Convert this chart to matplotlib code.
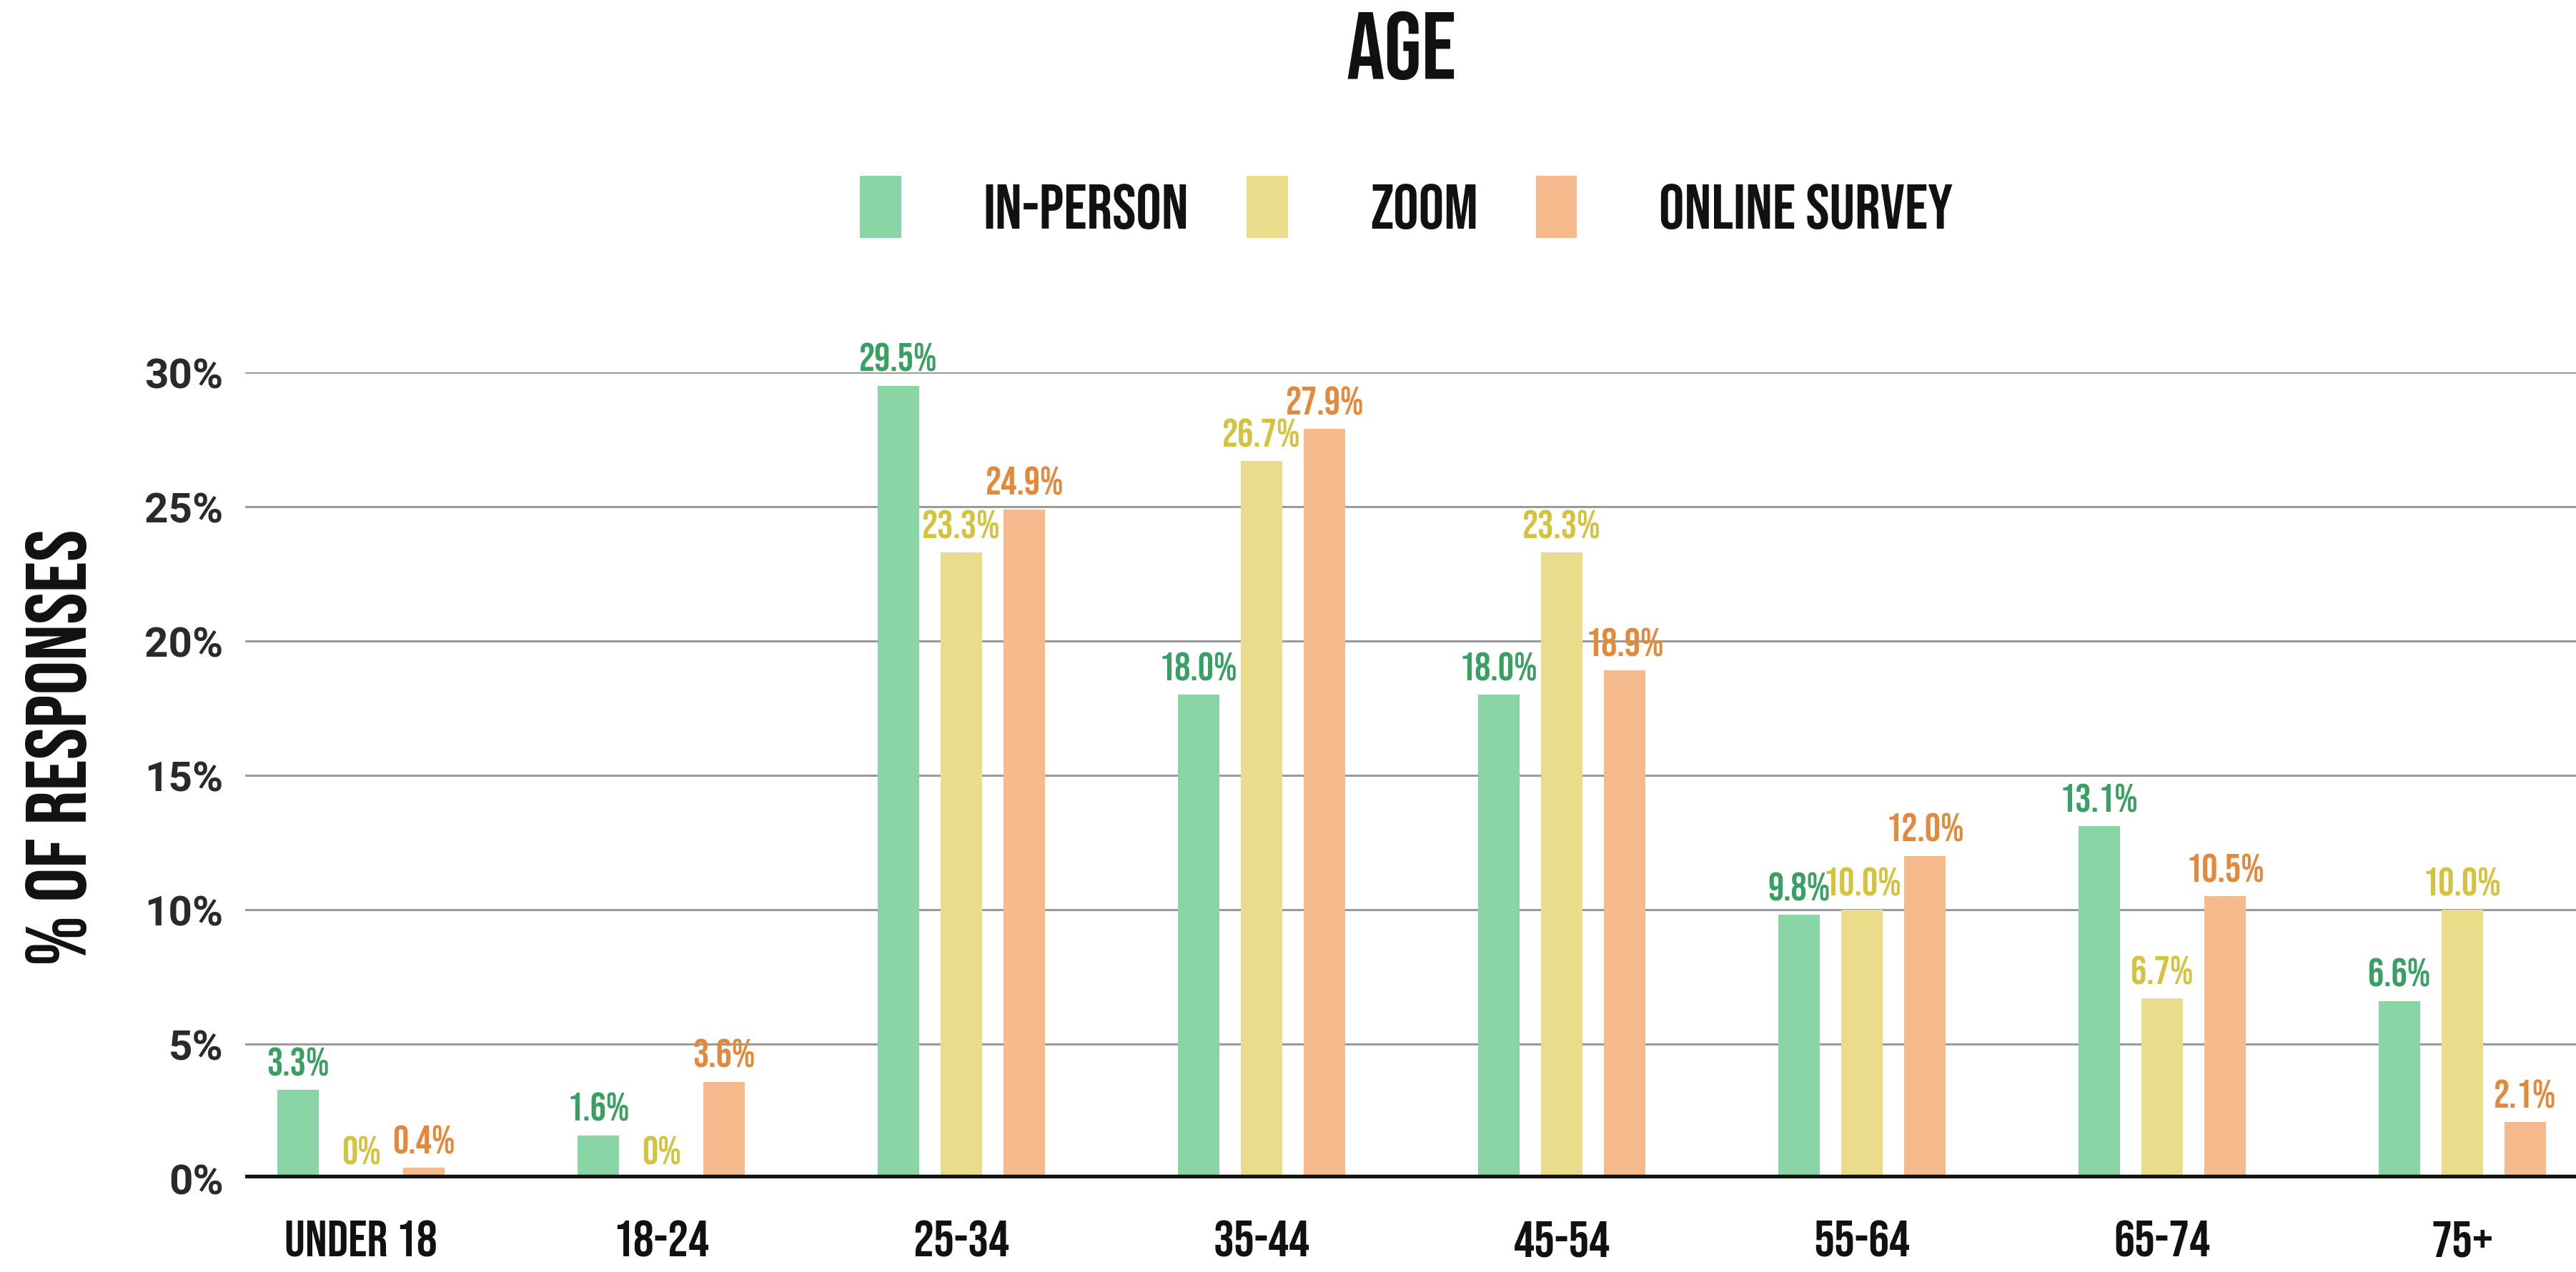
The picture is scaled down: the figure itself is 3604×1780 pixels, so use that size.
import matplotlib
matplotlib.use("Agg")
import matplotlib.pyplot as plt
import numpy as np
import warnings
warnings.filterwarnings("ignore")

# ---------------- data ----------------
categories = ["UNDER 18", "18-24", "25-34", "35-44", "45-54", "55-64", "65-74", "75+"]
series_names = ["IN-PERSON", "ZOOM", "ONLINE SURVEY"]
in_person = [3.3, 1.6, 29.5, 18.0, 18.0, 9.8, 13.1, 6.6]
zoom = [0.0, 0.0, 23.3, 26.7, 23.3, 10.0, 6.7, 10.0]
online_survey = [0.4, 3.6, 24.9, 27.9, 18.9, 12.0, 10.5, 2.1]
yticks = [0, 5, 10, 15, 20, 25, 30]
ytick_labels = ["0%", "5%", "10%", "15%", "20%", "25%", "30%"]

bar_colors = ["#8ad5a6", "#ebdc8c", "#f6ba8c"]
label_colors = ["#3a9f62", "#d3c33e", "#e3893c"]

COND = ["Bebas Neue", "Antonio", "Oswald", "DejaVu Sans"]
TICKF = ["Roboto", "DejaVu Sans"]

# ---------------- figure ----------------
fig = plt.figure(figsize=(36.04, 17.81), dpi=100)
fig.patch.set_facecolor("white")
ax = fig.add_axes([0.0952, 0.0736, 0.9048, 0.6333])

x = np.arange(len(categories))
offset = 0.21
width = 0.138
all_series = [in_person, zoom, online_survey]
bars = []
for i, (vals, name) in enumerate(zip(all_series, series_names)):
    b = ax.bar(x + (i - 1) * offset, vals, width=width, color=bar_colors[i],
               label=name, zorder=3)
    bars.append(b)
    for xi, v in zip(x + (i - 1) * offset, vals):
        txt = f"{v:.1f}%" if v > 0 else "0%"
        ax.annotate(txt, (xi, v), xytext=(0, 15), textcoords="offset points",
                    ha="center", va="baseline", fontsize=40,
                    color=label_colors[i], family=COND, zorder=5,
                    annotation_clip=False)

ax.set_xlim(-0.386, 7.379)
ax.set_ylim(0, 30)

# grid lines
for yv in yticks[1:]:
    ax.axhline(yv, color="#9a9a9a", linewidth=2.2, zorder=1)
ax.axhline(0, color="#111111", linewidth=7.5, zorder=4)

for s in ax.spines.values():
    s.set_visible(False)

ax.set_yticks(yticks)
ax.set_yticklabels(ytick_labels, fontsize=42, fontweight="bold", family=TICKF, color="#2a2a2a")
ax.tick_params(axis="y", length=0, pad=22)
ax.set_xticks(x)
ax.set_xticklabels(categories, fontsize=52, family=COND, color="#111111")
ax.tick_params(axis="x", length=0, pad=42)

# y axis label
fig.text(0.022, 0.413, "% OF RESPONSES", rotation=90, ha="center", va="center",
         fontsize=86, family=COND, color="#111111")

# title
fig.text(0.544, 0.964, "AGE", ha="center", va="center", fontsize=96,
         family=COND, color="#111111")

# legend
leg = fig.legend(handles=bars, labels=series_names, loc="center",
                 bbox_to_anchor=(0.546, 0.837), ncol=3, frameon=False,
                 handlelength=0.65, handleheight=1.12, handletextpad=1.29,
                 columnspacing=0.91, prop={"family": COND, "size": 64},
                 labelcolor="#111111")

fig.savefig("out.png", dpi=100, facecolor="white")
